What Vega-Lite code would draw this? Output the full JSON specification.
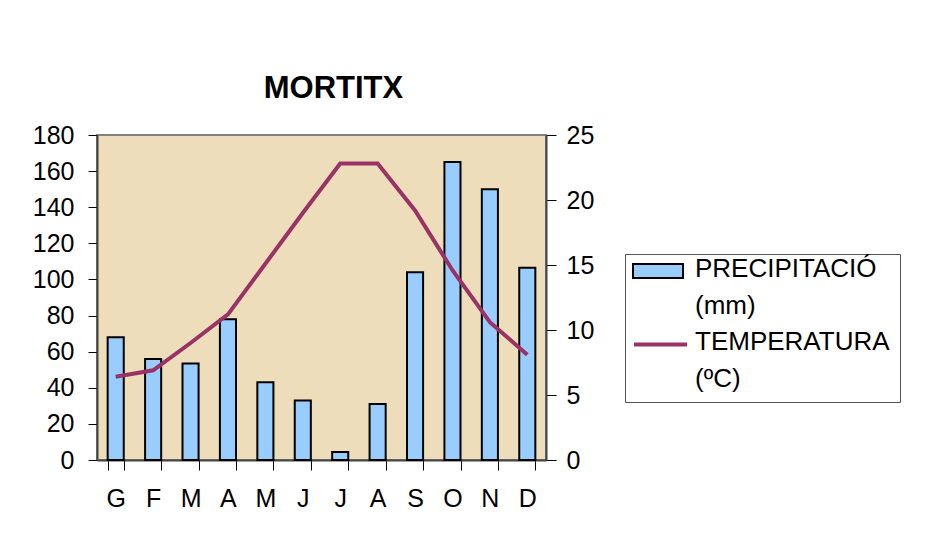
{
  "$schema": "https://vega.github.io/schema/vega-lite/v6.json",
  "width": 449,
  "height": 325,
  "autosize": {"type": "none"},
  "padding": {"left": 97, "top": 135, "right": 398, "bottom": 73},
  "background": "white",
  "title": {"text": "MORTITX", "font": "Liberation Sans", "fontSize": 31, "fontWeight": "bold", "color": "black", "anchor": "middle", "dx": 12, "offset": 18},
  "config": {
    "view": {"fill": "#EDDDBB", "stroke": "#808080", "strokeWidth": 2},
    "axis": {"labelFont": "Liberation Sans", "labelFontSize": 25, "labelColor": "black", "tickColor": "black", "domainColor": "#444444", "domainWidth": 2, "grid": false, "title": null},
    "legend": {"labelFont": "Liberation Sans", "labelFontSize": 26, "labelColor": "black", "labelLimit": 0},
    "style": {"guide-label": {"lineHeight": 36.5}}
  },
  "data": {"values": [
    {"mes": "Gener", "p": 68, "t": 6.4},
    {"mes": "Febrer", "p": 56, "t": 6.9},
    {"mes": "Març", "p": 53.5, "t": 9.0},
    {"mes": "Abril", "p": 78, "t": 11.2},
    {"mes": "Maig", "p": 43, "t": 15.1},
    {"mes": "Juny", "p": 33, "t": 19.0},
    {"mes": "Juliol", "p": 4.4, "t": 22.8},
    {"mes": "Agost", "p": 31, "t": 22.8},
    {"mes": "Setembre", "p": 104, "t": 19.2},
    {"mes": "Octubre", "p": 165, "t": 14.6},
    {"mes": "Novembre", "p": 150, "t": 10.6},
    {"mes": "Desembre", "p": 106.5, "t": 8.1}
  ]},
  "encoding": {
    "x": {"field": "mes", "type": "nominal", "sort": null,
      "scale": {"paddingInner": 0.57, "paddingOuter": 0.285},
      "axis": {"labelAngle": 0, "labelExpr": "upper(substring(datum.label, 0, 1))", "tickBand": "extent", "tickSize": 10, "labelPadding": 16, "labelBaseline": "top"}}
  },
  "layer": [
    {
      "mark": {"type": "bar", "stroke": "black", "strokeWidth": 2},
      "encoding": {
        "y": {"field": "p", "type": "quantitative", "scale": {"domain": [0, 180], "nice": false},
          "axis": {"values": [0, 20, 40, 60, 80, 100, 120, 140, 160, 180], "tickSize": 9, "labelPadding": 14}},
        "fill": {"datum": "PRECIPITACIÓ", "type": "nominal",
          "scale": {"domain": ["PRECIPITACIÓ"], "range": ["#99CCFF"]},
          "legend": {
            "title": null, "orient": "none", "legendX": 528, "legendY": 119,
            "strokeColor": "#555555", "padding": 10,
            "symbolType": "M-1.5,-1.3H3.5V0.1H-1.5Z", "symbolSize": 400,
            "symbolStrokeColor": "black", "symbolStrokeWidth": 2,
            "labelOffset": 34, "labelBaseline": "alphabetic", "labelLimit": 0,
            "labelExpr": "['PRECIPITACIÓ', '(mm)', 'TEMPERATURA', '(ºC)']"
          }}
      }
    },
    {
      "mark": {"type": "line", "strokeWidth": 4},
      "encoding": {
        "y": {"field": "t", "type": "quantitative", "scale": {"domain": [0, 25], "nice": false},
          "axis": {"orient": "right", "values": [0, 5, 10, 15, 20, 25], "tickSize": 10, "labelPadding": 10}},
        "stroke": {"datum": "TEMPERATURA", "type": "nominal",
          "scale": {"domain": ["TEMPERATURA"], "range": ["#993366"]},
          "legend": {
            "title": null, "orient": "none", "legendX": 535, "legendY": 181,
            "padding": 0, "symbolType": "stroke", "symbolSize": 2809, "symbolStrokeWidth": 4,
            "labelExpr": "''", "labelFontSize": 1
          }}
      }
    }
  ],
  "resolve": {"scale": {"y": "independent"}}
}
